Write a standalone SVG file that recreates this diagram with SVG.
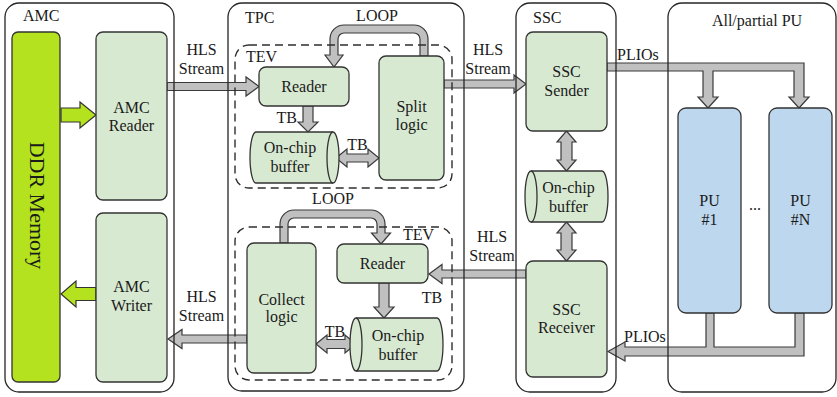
<svg xmlns="http://www.w3.org/2000/svg" width="837" height="397" viewBox="0 0 837 397" font-family="'Liberation Serif', 'Times New Roman', serif">
  <style>
    text { font-family: 'Liberation Serif', 'Times New Roman', serif; font-size: 16px; fill: #1a1a1a; }
    .c { text-anchor: middle; }
    .cont { fill: none; stroke: #262626; stroke-width: 1.3; }
    .dash { fill: none; stroke: #2e2e2e; stroke-width: 1.4; stroke-dasharray: 8 5; }
    .box { fill: #d8e9d2; stroke: #333; stroke-width: 1.3; }
    .pu { fill: #bdd7ee; stroke: #333; stroke-width: 1.3; }
    .ddr { fill: #b4e21e; stroke: #333; stroke-width: 1.3; }
    .arr { fill: #c0c0c0; stroke: #3a3a3a; stroke-width: 1.2; stroke-linejoin: miter; }
    .garr { fill: #b4e21e; stroke: #333; stroke-width: 1.2; }
    .ln { fill: none; stroke: #333; stroke-width: 1.3; }
  </style>

  <!-- connectors -->
  <g id="connectors">
    <!-- AMC Reader to TPC Reader -->
    <polygon class="arr" points="167,82.5 246,82.5 246,77 259,86.5 246,96 246,90.5 167,90.5"/>
    <!-- Split logic to SSC Sender -->
    <polygon class="arr" points="444,80 514,80 514,75 526,84 514,93 514,88 444,88"/>
    <!-- SSC Receiver to lower Reader -->
    <polygon class="arr" points="526,270 442,270 442,264.5 429,274 442,283.5 442,278 526,278"/>
    <!-- Collect logic to AMC Writer -->
    <polygon class="arr" points="247,335 182,335 182,329.5 168,339 182,348.5 182,343 247,343"/>

    <!-- DDR <-> AMC blocks -->
    <polygon class="garr" points="61,108 80,108 80,102 96,115 80,128 80,122 61,122"/>
    <polygon class="garr" points="96,287.5 76,287.5 76,281 61,294 76,307 76,300.5 96,300.5"/>

    <!-- upper LOOP: Split logic back to Reader -->
    <path class="arr" d="M428,56 L428,39 A14,14 0 0 0 414,25 L344,25 A14,14 0 0 0 330,39 L330,55 L325,55 L334,67 L343,55 L338,55 L338,39 A6,6 0 0 1 344,33 L414,33 A6,6 0 0 1 420,39 L420,56 Z"/>
    <!-- lower LOOP: Collect logic to Reader -->
    <path class="arr" d="M280,243 L280,224 A14,14 0 0 1 294,210 L371,210 A14,14 0 0 1 385,224 L385,233 L390.5,233 L381,244 L371.5,233 L377,233 L377,224 A6,6 0 0 0 371,218 L294,218 A6,6 0 0 0 288,224 L288,243 Z"/>

    <!-- TB transfers -->
    <polygon class="arr" points="303,106 313,106 313,122 318,122 308,132 298,122 303,122"/>
    <polygon class="arr" points="336,158 347,149 347,154 368,154 368,149 379,158 368,167 368,162 347,162 347,167"/>
    <polygon class="arr" points="379,283 389,283 389,307 394,307 384,318 374,307 379,307"/>
    <polygon class="arr" points="316,344 327,335 327,339.5 345,339.5 345,335 356,344 345,353 345,348.5 327,348.5 327,353"/>

    <!-- SSC internal links -->
    <polygon class="arr" points="566.5,131 576,142 572,142 572,160 576,160 566.5,171 557,160 561,160 561,142 557,142"/>
    <polygon class="arr" points="566.5,222 576,233 572,233 572,250 576,250 566.5,261 557,250 561,250 561,233 557,233"/>

    <!-- PLIOs out to the PUs -->
    <polygon class="arr" points="607,63 804,63 804,97 809,97 799,108 789,97 794,97 794,71 713,71 713,97 718,97 708,108 698,97 703,97 703,71 607,71"/>
    <!-- PLIOs back from the PUs -->
    <polygon class="arr" points="706,313 714,313 714,347 795,347 795,313 804,313 804,356 625,356 625,361 608,351.5 625,342 625,347 706,347"/>
  </g>

  <!-- AMC -->
  <g id="amc">
    <rect class="cont" x="5" y="3" width="169" height="389" rx="14"/>
    <text x="23" y="21">AMC</text>
  </g>
  <g id="ddr-memory">
    <rect class="ddr" x="12" y="32" width="48" height="350" rx="6"/>
    <text class="c" transform="translate(30,205.5) rotate(90)" style="font-size:22px">DDR Memory</text>
  </g>
  <g id="amc-reader">
    <rect class="box" x="96" y="32" width="71" height="168" rx="7"/>
    <text class="c" x="131.5" y="113">AMC</text>
    <text class="c" x="131.5" y="131">Reader</text>
  </g>
  <g id="amc-writer">
    <rect class="box" x="96" y="213" width="71" height="169" rx="7"/>
    <text class="c" x="131.5" y="292">AMC</text>
    <text class="c" x="131.5" y="311">Writer</text>
  </g>

  <!-- TPC -->
  <g id="tpc">
    <rect class="cont" x="228" y="3" width="236" height="388" rx="14"/>
    <text x="245" y="23">TPC</text>
  </g>
  <g id="tev-split">
    <rect class="dash" x="235" y="45" width="217" height="143" rx="14"/>
    <text x="246" y="61.5">TEV</text>
  </g>
  <g id="tev-collect">
    <rect class="dash" x="235" y="227" width="217" height="153" rx="14"/>
    <text x="403" y="240">TEV</text>
  </g>
  <g id="split-reader">
    <rect class="box" x="259" y="67" width="90" height="39" rx="7"/>
    <text class="c" x="304" y="92">Reader</text>
  </g>
  <g id="split-logic">
    <rect class="box" x="379" y="56" width="65" height="124" rx="7"/>
    <text class="c" x="411.5" y="112">Split</text>
    <text class="c" x="411.5" y="130">logic</text>
  </g>
  <g id="split-buffer">
    <path class="box" d="M256,132 L333,132 A6,25.5 0 0 1 333,183 L256,183 A6,25.5 0 0 1 256,132 Z"/>
    <path class="ln" d="M333,132 A6,25.5 0 0 0 333,183"/>
    <text class="c" x="290" y="153">On-chip</text>
    <text class="c" x="290" y="172">buffer</text>
  </g>
  <g id="collect-logic">
    <rect class="box" x="247" y="243" width="69" height="130" rx="7"/>
    <text class="c" x="281.5" y="305">Collect</text>
    <text class="c" x="281.5" y="322">logic</text>
  </g>
  <g id="collect-reader">
    <rect class="box" x="337" y="244" width="91" height="39" rx="7"/>
    <text class="c" x="382.5" y="269">Reader</text>
  </g>
  <g id="collect-buffer">
    <path class="box" d="M356,318 L437,318 A6,26.5 0 0 1 437,371 L356,371 A6,26.5 0 0 1 356,318 Z"/>
    <path class="ln" d="M356,318 A6,26.5 0 0 1 356,371"/>
    <text class="c" x="398" y="341">On-chip</text>
    <text class="c" x="398" y="360">buffer</text>
  </g>

  <!-- SSC -->
  <g id="ssc">
    <rect class="cont" x="516" y="3" width="100" height="389" rx="14"/>
    <text x="533" y="23">SSC</text>
  </g>
  <g id="ssc-sender">
    <rect class="box" x="526" y="32" width="81" height="99" rx="7"/>
    <text class="c" x="566.5" y="77">SSC</text>
    <text class="c" x="566.5" y="96">Sender</text>
  </g>
  <g id="ssc-buffer">
    <path class="box" d="M531,171 L602,171 A6,25.5 0 0 1 602,222 L531,222 A6,25.5 0 0 1 531,171 Z"/>
    <path class="ln" d="M531,171 A6,25.5 0 0 1 531,222"/>
    <text class="c" x="568.5" y="193">On-chip</text>
    <text class="c" x="568.5" y="212">buffer</text>
  </g>
  <g id="ssc-receiver">
    <rect class="box" x="526" y="261" width="81" height="116" rx="7"/>
    <text class="c" x="566.5" y="315">SSC</text>
    <text class="c" x="566.5" y="333">Receiver</text>
  </g>

  <!-- PU array -->
  <g id="pu-array">
    <rect class="cont" x="668" y="3" width="168" height="389" rx="14"/>
    <text class="c" x="757" y="26">All/partial PU</text>
    <text class="c" x="755" y="210">...</text>
  </g>
  <g id="pu-1">
    <rect class="pu" x="678" y="108" width="63" height="205" rx="8"/>
    <text class="c" x="709.5" y="206">PU</text>
    <text class="c" x="709.5" y="225">#1</text>
  </g>
  <g id="pu-n">
    <rect class="pu" x="769" y="108" width="63" height="205" rx="8"/>
    <text class="c" x="800.5" y="206">PU</text>
    <text class="c" x="800.5" y="225">#N</text>
  </g>

  <!-- connector labels -->
  <g id="labels">
    <text class="c" x="201.5" y="55">HLS</text>
    <text class="c" x="201.5" y="74">Stream</text>
    <text class="c" x="488" y="55">HLS</text>
    <text class="c" x="488" y="74">Stream</text>
    <text class="c" x="492" y="242">HLS</text>
    <text class="c" x="492" y="261">Stream</text>
    <text class="c" x="201.5" y="302">HLS</text>
    <text class="c" x="201.5" y="321">Stream</text>
    <text class="c" x="377" y="21">LOOP</text>
    <text class="c" x="333" y="204">LOOP</text>
    <text x="297" y="123" text-anchor="end">TB</text>
    <text class="c" x="357.5" y="150">TB</text>
    <text class="c" x="335" y="337">TB</text>
    <text class="c" x="432" y="303">TB</text>
    <text x="617" y="60">PLIOs</text>
    <text x="624" y="342">PLIOs</text>
  </g>
</svg>
